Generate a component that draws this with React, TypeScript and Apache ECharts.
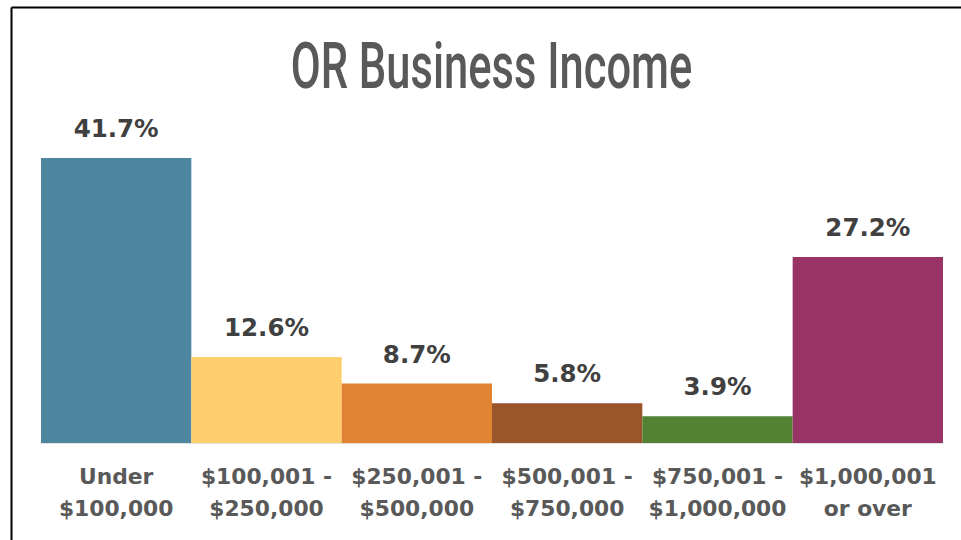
import React, { useEffect, useRef } from "react";
import * as echarts from "echarts";

const categories = [
  "Under\n$100,000",
  "$100,001 -\n$250,000",
  "$250,001 -\n$500,000",
  "$500,001 -\n$750,000",
  "$750,001 -\n$1,000,000",
  "$1,000,001\nor over",
];
const values = [41.7, 12.6, 8.7, 5.8, 3.9, 27.2];
const colors = ["#4E86A0", "#FECE6D", "#E08434", "#9A552B", "#548235", "#993366"];
const titleText = "OR Business Income";

export default function App() {
  const ref = useRef<HTMLDivElement>(null);
  useEffect(() => {
    if (!ref.current) return;
    const chart = echarts.init(ref.current, null, { renderer: "svg" });
    chart.setOption({
      animation: false,
      backgroundColor: "#ffffff",
      grid: { left: 41, right: 18, top: 101.3, bottom: 97, containLabel: false },
      xAxis: {
        type: "category",
        data: categories,
        axisLine: { show: true, lineStyle: { color: "#D9D9D9", width: 1.5 } },
        axisTick: { show: false },
        axisLabel: {
          interval: 0,
          margin: 17,
          color: "#595959",
          fontFamily: "DejaVu Sans",
          fontWeight: "bold",
          fontSize: 21.8,
          lineHeight: 32,
        },
      },
      yAxis: {
        type: "value",
        min: 0,
        max: 50,
        show: false,
        splitLine: { show: false },
      },
      series: [
        {
          type: "bar",
          barCategoryGap: "0%",
          data: values.map((v, i) => ({ value: v, itemStyle: { color: colors[i] } })),
          label: {
            show: true,
            position: "top",
            distance: 17,
            formatter: (p: any) => p.value.toFixed(1) + "%",
            color: "#404040",
            fontFamily: "DejaVu Sans",
            fontWeight: "bold",
            fontSize: 24.5,
          },
        },
      ],
      graphic: [
        {
          type: "line",
          shape: { x1: 11.5, y1: 7.5, x2: 961, y2: 7.5 },
          style: { stroke: "#000000", lineWidth: 2 },
        },
        {
          type: "line",
          shape: { x1: 11.5, y1: 7.5, x2: 11.5, y2: 540 },
          style: { stroke: "#000000", lineWidth: 2 },
        },
        {
          type: "text",
          x: 491.5,
          y: 66,
          scaleX: 0.68,
          style: {
            text: titleText,
            fill: "#595959",
            font: "500 64px Roboto",
            textAlign: "center",
            textVerticalAlign: "middle",
          },
        },
      ],
    });
    return () => chart.dispose();
  }, []);
  return (
    <div
      ref={ref}
      style={{ position: "fixed", left: 0, top: 0, width: 961, height: 540 }}
    />
  );
}
